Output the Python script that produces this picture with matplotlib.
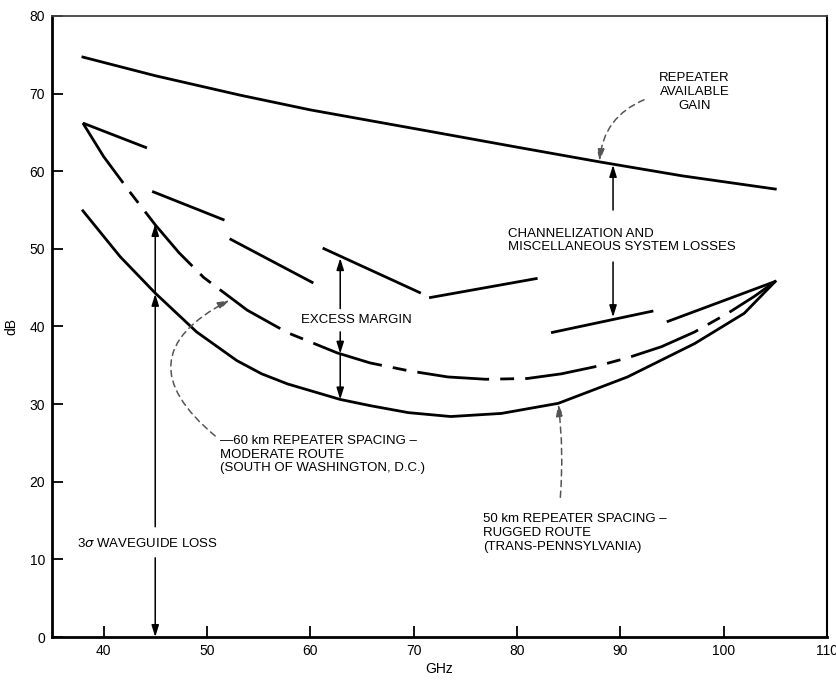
import matplotlib
matplotlib.use("Agg")
import matplotlib.pyplot as plt

plt.rcParams['font.family'] = ['Liberation Sans', 'DejaVu Sans']

# repeater available gain
gain_x = [38, 45, 53.2, 60, 71.7, 80, 88, 96, 105]
gain_y = [74.7, 72.3, 69.8, 67.9, 65.1, 63.1, 61.2, 59.4, 57.7]

# 60 km spacing - moderate route (dash-dot)
mod_x = [38.0, 40.0, 42.5, 45.0, 47.3, 49.7, 53.9, 57.8, 62.6, 65.8, 69.5, 73.3,
         77.0, 81.0, 84.3, 87.5, 90.8, 94.0, 97.2, 100.4, 103.0, 105.0]
mod_y = [66.2, 61.9, 57.4, 53.1, 49.5, 46.3, 42.1, 39.2, 36.6, 35.3, 34.3, 33.5,
         33.2, 33.3, 33.9, 34.8, 36.0, 37.4, 39.3, 41.7, 43.9, 45.8]

# 50 km spacing - rugged route (solid)
rug_x = [38.0, 41.6, 45.0, 49.0, 52.9, 55.3, 57.8, 62.9, 65.8, 69.5, 73.6, 78.5,
         84.0, 90.7, 97.2, 102.0, 105.0]
rug_y = [54.9, 49.0, 44.3, 39.3, 35.6, 33.9, 32.6, 30.6, 29.8, 28.9, 28.4, 28.8,
         30.1, 33.5, 37.8, 41.7, 45.8]

# short straight segments
seg_x = [(38.0, 44.2), (44.7, 51.7), (52.2, 60.3), (61.2, 70.7),
         (71.5, 82.0), (83.3, 93.2), (94.5, 105.0)]
seg_y = [(66.2, 63.0), (57.4, 53.7), (51.3, 45.6), (50.1, 44.3),
         (43.7, 46.2), (39.2, 42.0), (40.6, 45.8)]

fig = plt.figure(figsize=(8.37, 6.81), dpi=100)
ax = fig.add_axes([0.062, 0.0646, 0.926, 0.912])

lw = 2.0
ax.plot(gain_x, gain_y, color='black', lw=lw)
ax.plot(rug_x, rug_y, color='black', lw=lw)
ax.plot(mod_x, mod_y, color='black', lw=lw, linestyle=(0, (26, 4, 5, 4)))
for sx, sy in zip(seg_x, seg_y):
    ax.plot(sx, sy, color='black', lw=lw, solid_capstyle='butt')


def arrow(start, tip, color='black', ls='-', lw=1.1, rad=0.0):
    ax.annotate('', xy=tip, xytext=start,
                arrowprops=dict(arrowstyle='-|>,head_length=0.7,head_width=0.22',
                                color=color, lw=lw, linestyle=ls,
                                shrinkA=0, shrinkB=0,
                                connectionstyle=f'arc3,rad={rad}'))


# gain label
ax.text(97.2, 70.2, 'REPEATER\nAVAILABLE\nGAIN', ha='center', va='center',
        fontsize=9.5, linespacing=1.25)
arrow((92.3, 69.2), (88.0, 61.3), color='#555555', ls=(0, (4, 3)), rad=0.3)

# channelization
ax.text(79.1, 51.1, 'CHANNELIZATION AND\nMISCELLANEOUS SYSTEM LOSSES',
        ha='left', va='center', fontsize=9.5, linespacing=1.1)
arrow((89.3, 55.0), (89.3, 60.8))
arrow((89.3, 48.3), (89.3, 41.2))

# excess margin
ax.text(64.5, 40.8, 'EXCESS MARGIN', ha='center', va='center', fontsize=9.5)
arrow((62.9, 42.3), (62.9, 48.8))
arrow((62.9, 39.3), (62.9, 36.5))
arrow((62.9, 36.5), (62.9, 30.6))

# waveguide loss
ax.text(37.4, 12.1, r'3$\sigma$ WAVEGUIDE LOSS', ha='left', va='center', fontsize=9.5)
arrow((45.0, 14.2), (45.0, 44.2))
arrow((45.0, 44.2), (45.0, 53.2))
arrow((45.0, 10.2), (45.0, 0.0))

# 60 km label
ax.text(51.3, 23.5, '\u201460 km REPEATER SPACING \u2013\nMODERATE ROUTE\n(SOUTH OF WASHINGTON, D.C.)',
        ha='left', va='center', fontsize=9.5, linespacing=1.2)
arrow((50.8, 25.9), (52.2, 43.4), color='#555555', ls=(0, (4, 3)), rad=-0.75)

# 50 km label
ax.text(76.7, 13.4, '50 km REPEATER SPACING \u2013\nRUGGED ROUTE\n(TRANS-PENNSYLVANIA)',
        ha='left', va='center', fontsize=9.5, linespacing=1.2)
arrow((84.2, 18.0), (84.0, 30.0), color='#555555', ls=(0, (4, 3)), rad=0.05)

ax.set_xlim(35, 110)
ax.set_ylim(0, 80)
ax.set_xticks(range(40, 111, 10))
ax.set_yticks(range(0, 81, 10))
ax.tick_params(direction='in', length=8, width=1.3, labelsize=10, pad=5)
ax.set_xlabel('GHz', fontsize=10, labelpad=3)
ax.set_ylabel('dB', fontsize=10, labelpad=8)
for side in ['left', 'bottom']:
    ax.spines[side].set_linewidth(2.0)
ax.spines['right'].set_linewidth(1.5)
ax.spines['top'].set_linewidth(1.3)
ax.spines['top'].set_color('#444444')

fig.savefig('out.png', dpi=100)
